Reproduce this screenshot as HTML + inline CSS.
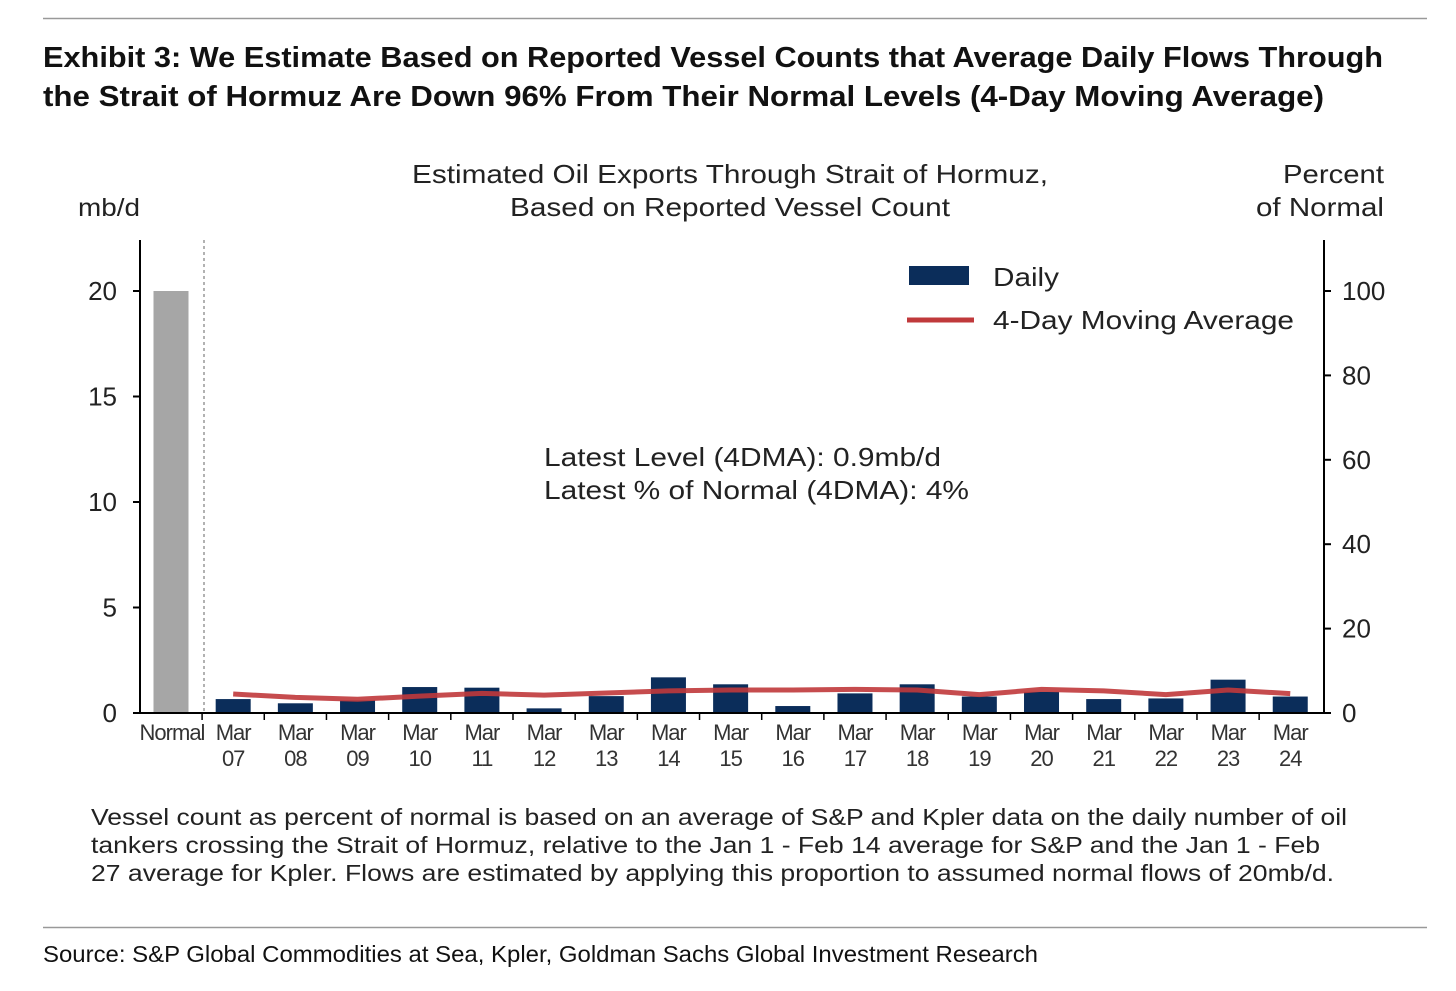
<!DOCTYPE html>
<html><head><meta charset="utf-8"><style>
html,body{margin:0;padding:0;background:#fff;}
svg{display:block;}
text{font-family:"Liberation Sans",Arial,sans-serif;}
</style></head><body>
<svg id="chart" width="1456" height="991" viewBox="0 0 1456 991" xmlns="http://www.w3.org/2000/svg">
<line x1="43" y1="18.5" x2="1427" y2="18.5" stroke="#999" stroke-width="1.5"/>
<text x="43" y="67" font-size="29" font-weight="bold" fill="#111" textLength="1340" lengthAdjust="spacingAndGlyphs">Exhibit 3: We Estimate Based on Reported Vessel Counts that Average Daily Flows Through</text>
<text x="43" y="106" font-size="29" font-weight="bold" fill="#111" textLength="1281" lengthAdjust="spacingAndGlyphs">the Strait of Hormuz Are Down 96% From Their Normal Levels (4-Day Moving Average)</text>
<text x="412" y="183" font-size="26" fill="#222" textLength="636" lengthAdjust="spacingAndGlyphs">Estimated Oil Exports Through Strait of Hormuz,</text>
<text x="510" y="216" font-size="26" fill="#222" textLength="440" lengthAdjust="spacingAndGlyphs">Based on Reported Vessel Count</text>
<text x="78" y="216" font-size="25" fill="#222" textLength="62" lengthAdjust="spacingAndGlyphs">mb/d</text>
<text x="1283" y="183" font-size="26" fill="#222" textLength="101" lengthAdjust="spacingAndGlyphs">Percent</text>
<text x="1256" y="216" font-size="26" fill="#222" textLength="128" lengthAdjust="spacingAndGlyphs">of Normal</text>
<g id="plot"></g>
<rect x="909" y="266" width="60" height="19" fill="#0b2d5a"/>
<text x="993" y="286" font-size="26" fill="#222" textLength="66" lengthAdjust="spacingAndGlyphs">Daily</text>
<line x1="907" y1="320" x2="974" y2="320" stroke="#c0393b" stroke-width="5"/>
<text x="993" y="329" font-size="26" fill="#222" textLength="301" lengthAdjust="spacingAndGlyphs">4-Day Moving Average</text>
<text x="544" y="466" font-size="26" fill="#222" textLength="397" lengthAdjust="spacingAndGlyphs">Latest Level (4DMA): 0.9mb/d</text>
<text x="544" y="499" font-size="26" fill="#222" textLength="425" lengthAdjust="spacingAndGlyphs">Latest % of Normal (4DMA): 4%</text>
<text x="91" y="825" font-size="23" fill="#222" textLength="1256" lengthAdjust="spacingAndGlyphs">Vessel count as percent of normal is based on an average of S&amp;P and Kpler data on the daily number of oil</text>
<text x="91" y="853" font-size="23" fill="#222" textLength="1229" lengthAdjust="spacingAndGlyphs">tankers crossing the Strait of Hormuz, relative to the Jan 1 - Feb 14 average for S&amp;P and the Jan 1 - Feb</text>
<text x="91" y="881" font-size="23" fill="#222" textLength="1243" lengthAdjust="spacingAndGlyphs">27 average for Kpler. Flows are estimated by applying this proportion to assumed normal flows of 20mb/d.</text>
<line x1="43" y1="927.5" x2="1427" y2="927.5" stroke="#999" stroke-width="1.5"/>
<text x="43" y="962" font-size="23" fill="#111" textLength="995" lengthAdjust="spacingAndGlyphs">Source: S&amp;P Global Commodities at Sea, Kpler, Goldman Sachs Global Investment Research</text>
</svg>
<script>
const categories = ["Normal","Mar 07","Mar 08","Mar 09","Mar 10","Mar 11","Mar 12","Mar 13","Mar 14","Mar 15","Mar 16","Mar 17","Mar 18","Mar 19","Mar 20","Mar 21","Mar 22","Mar 23","Mar 24"];
const dailyValues = [20,0.66,0.46,0.6,1.23,1.2,0.22,0.8,1.69,1.36,0.33,0.93,1.36,0.78,1.0,0.66,0.69,1.58,0.78];
const maValues = [null,0.9,0.74,0.65,0.8,0.93,0.85,0.95,1.05,1.09,1.09,1.12,1.09,0.87,1.12,1.05,0.87,1.09,0.92];
const leftTicks = [0,5,10,15,20];
const rightTicks = [0,20,40,60,80,100];

const NS="http://www.w3.org/2000/svg";
const g=document.getElementById('plot');
const x0=171, step=62.18, yBase=713, yTop=291;
const xAt=i=>x0+i*step;
const yL=v=>yBase-(v/20)*(yBase-yTop);
const yR=v=>yBase-(v/100)*(yBase-yTop);
function mk(tag,attrs){const e=document.createElementNS(NS,tag);for(const k in attrs)e.setAttribute(k,attrs[k]);g.appendChild(e);return e;}

dailyValues.forEach((v,i)=>{
  const r=mk('rect',{x:xAt(i)-17.5,y:yL(v),width:35,height:yBase-yL(v),fill:i===0?'#a6a6a6':'#0b2d5a'});
  
  
});
let pts=[];
maValues.forEach((v,i)=>{if(v!==null)pts.push(xAt(i)+','+yL(v));});
const pl=mk('polyline',{points:pts.join(' '),fill:'none',stroke:'#c0393b','stroke-width':5,'stroke-linejoin':'round',opacity:0.9});


const ds=mk('line',{x1:204,y1:240,x2:204,y2:713,stroke:'#666','stroke-width':1,'stroke-dasharray':'3,3'});


const la=mk('line',{x1:140,y1:240,x2:140,y2:714,stroke:'#000','stroke-width':2});


const ra=mk('line',{x1:1324,y1:240,x2:1324,y2:714,stroke:'#000','stroke-width':2});


const xa=mk('line',{x1:139,y1:713,x2:1325,y2:713,stroke:'#000','stroke-width':2});


leftTicks.forEach(t=>{
  mk('line',{x1:133,y1:yL(t),x2:140,y2:yL(t),stroke:'#000','stroke-width':2});
  const tx=mk('text',{x:117,y:yL(t)+9,'font-size':26,fill:'#222','text-anchor':'end'});
  tx.textContent=t;
  
  
});
rightTicks.forEach(t=>{
  mk('line',{x1:1324,y1:yR(t),x2:1331,y2:yR(t),stroke:'#000','stroke-width':2});
  const tx=mk('text',{x:1342,y:yR(t)+9,'font-size':26,fill:'#222'});
  tx.textContent=t;
  
  
});
categories.forEach((c,i)=>{
  if(i>0) mk('line',{x1:xAt(i)-step/2,y1:713,x2:xAt(i)-step/2,y2:720,stroke:'#000','stroke-width':1.5});
  const parts=c.split(' ');
  parts.forEach((p,j)=>{
    const tx=mk('text',{x:xAt(i)+(i===0?1:0),y:740+j*26,'font-size':22,fill:'#333','text-anchor':'middle','letter-spacing':'-1'});
    tx.textContent=p;
    
    
  });
});
</script>
</body></html>
